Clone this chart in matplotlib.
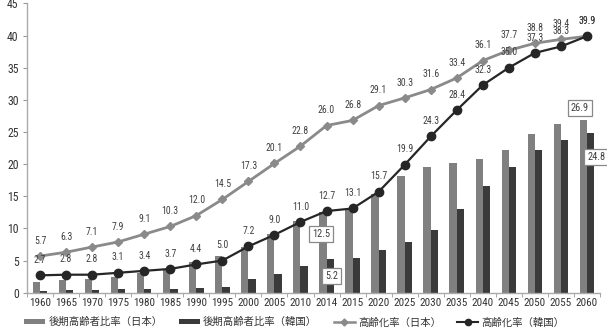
import matplotlib
matplotlib.use("Agg")
import matplotlib.pyplot as plt
import numpy as np
from matplotlib import font_manager as fm
from matplotlib.lines import Line2D
from matplotlib.patches import Patch

years = ["1960", "1965", "1970", "1975", "1980", "1985", "1990", "1995", "2000", "2005", "2010",
         "2014", "2015", "2020", "2025", "2030", "2035", "2040", "2045", "2050", "2055", "2060"]
old_old_japan = [1.7, 1.9, 2.1, 2.5, 3.1, 3.7, 4.8, 5.7, 7.1, 9.1, 11.1,
                 12.5, 12.9, 15.3, 18.2, 19.6, 20.2, 20.8, 22.2, 24.7, 26.3, 26.9]
old_old_korea = [0.3, 0.4, 0.4, 0.5, 0.5, 0.6, 0.8, 0.9, 2.2, 2.9, 4.1,
                 5.2, 5.4, 6.7, 7.9, 9.7, 13.0, 16.6, 19.6, 22.2, 23.7, 24.8]
aging_japan = [5.7, 6.3, 7.1, 7.9, 9.1, 10.3, 12.0, 14.5, 17.3, 20.1, 22.8,
               26.0, 26.8, 29.1, 30.3, 31.6, 33.4, 36.1, 37.7, 38.8, 39.4, 39.9]
aging_korea = [2.7, 2.8, 2.8, 3.1, 3.4, 3.7, 4.4, 5.0, 7.2, 9.0, 11.0,
               12.7, 13.1, 15.7, 19.9, 24.3, 28.4, 32.3, 35.0, 37.3, 38.3, 39.9]
legend_labels = ["後期高齢者比率（日本）", "後期高齢者比率（韓国）", "高齢化率（日本）", "高齢化率（韓国）"]

names = {f.name for f in fm.fontManager.ttflist}
num_font = next((n for n in ["Liberation Sans Narrow", "DejaVu Sans Condensed", "Roboto Condensed"]
                 if n in names), "DejaVu Sans")
plt.rcParams["font.family"] = [num_font, "Noto Sans CJK JP", "DejaVu Sans"]

c_jbar = "#808080"
c_kbar = "#3a3a3a"
c_jline = "#8a8a8a"
c_kline = "#262626"
c_text = "#404040"

fig = plt.figure(figsize=(6.07, 3.35), dpi=100)
ax = fig.add_axes([27 / 607, 42.3 / 335, 573 / 607, 289.3 / 335])

x = np.arange(len(years))
w = 0.28
ax.bar(x - w / 2, old_old_japan, width=w, color=c_jbar, zorder=2)
ax.bar(x + w / 2, old_old_korea, width=w, color=c_kbar, zorder=2)
ax.plot(x, aging_japan, color=c_jline, lw=2.0, marker="D", ms=4.5, zorder=3)
ax.plot(x, aging_korea, color=c_kline, lw=1.6, marker="o", ms=6, zorder=4)

for xi, v in zip(x, aging_japan):
    ax.annotate(f"{v:.1f}", (xi, v), xytext=(0, 11), textcoords="offset points",
                ha="center", va="center", fontsize=7, color=c_text, zorder=5)
for xi, v in zip(x, aging_korea):
    ax.annotate(f"{v:.1f}", (xi, v), xytext=(0, 11), textcoords="offset points",
                ha="center", va="center", fontsize=7, color=c_text, zorder=5)

box = dict(boxstyle="square,pad=0.3", fc="white", ec="#888888", lw=0.9)
i14 = years.index("2014")
ax.text(x[i14] - 0.22, old_old_japan[i14] - 3.4, f"{old_old_japan[i14]:.1f}", ha="center", va="center",
        fontsize=7.5, color=c_text, bbox=box, zorder=6)
ax.text(x[i14] + 0.2, old_old_korea[i14] - 2.6, f"{old_old_korea[i14]:.1f}", ha="center", va="center",
        fontsize=7.5, color=c_text, bbox=box, zorder=6)
ax.text(x[-1] - 0.27, old_old_japan[-1] + 1.8, f"{old_old_japan[-1]:.1f}", ha="center", va="center",
        fontsize=7.5, color=c_text, bbox=box, zorder=6)
ax.text(x[-1] + 0.37, old_old_korea[-1] - 3.7, f"{old_old_korea[-1]:.1f}", ha="center", va="center",
        fontsize=7.5, color=c_text, bbox=box, zorder=6, clip_on=False)

ax.set_xlim(-0.5, len(years) - 0.5)
ax.set_ylim(0, 45)
ax.set_yticks(np.arange(0, 46, 5))
ax.set_xticks(x)
ax.set_xticklabels(years)
ax.set_xticks(np.arange(-0.5, len(years), 1), minor=True)
ax.tick_params(axis="x", which="major", length=0, pad=4, labelsize=8, labelcolor="#333333")
ax.tick_params(axis="x", which="minor", length=3, color="#999999")
ax.tick_params(axis="y", length=3, color="#999999", labelsize=8.5, labelcolor="#333333", pad=3)
for s in ["top", "right"]:
    ax.spines[s].set_visible(False)
for s in ["left", "bottom"]:
    ax.spines[s].set_color("#aaaaaa")
    ax.spines[s].set_linewidth(1.0)

handles = [
    Patch(facecolor=c_jbar, edgecolor="none"),
    Patch(facecolor=c_kbar, edgecolor="none"),
    Line2D([0], [0], color=c_jline, lw=1.8, marker="D", ms=3.5),
    Line2D([0], [0], color=c_kline, lw=1.5, marker="o", ms=4.5),
]
leg = fig.legend(handles, legend_labels, loc="center", bbox_to_anchor=(0.485, 0.038), ncol=4,
                 frameon=False, fontsize=7.5, handlelength=2.0, handleheight=0.45,
                 handletextpad=0.3, columnspacing=1.6,
                 prop={"family": ["Noto Sans CJK JP", "DejaVu Sans"], "size": 7.5})
for t in leg.get_texts():
    t.set_color("#333333")

fig.savefig("out.png", dpi=100)
